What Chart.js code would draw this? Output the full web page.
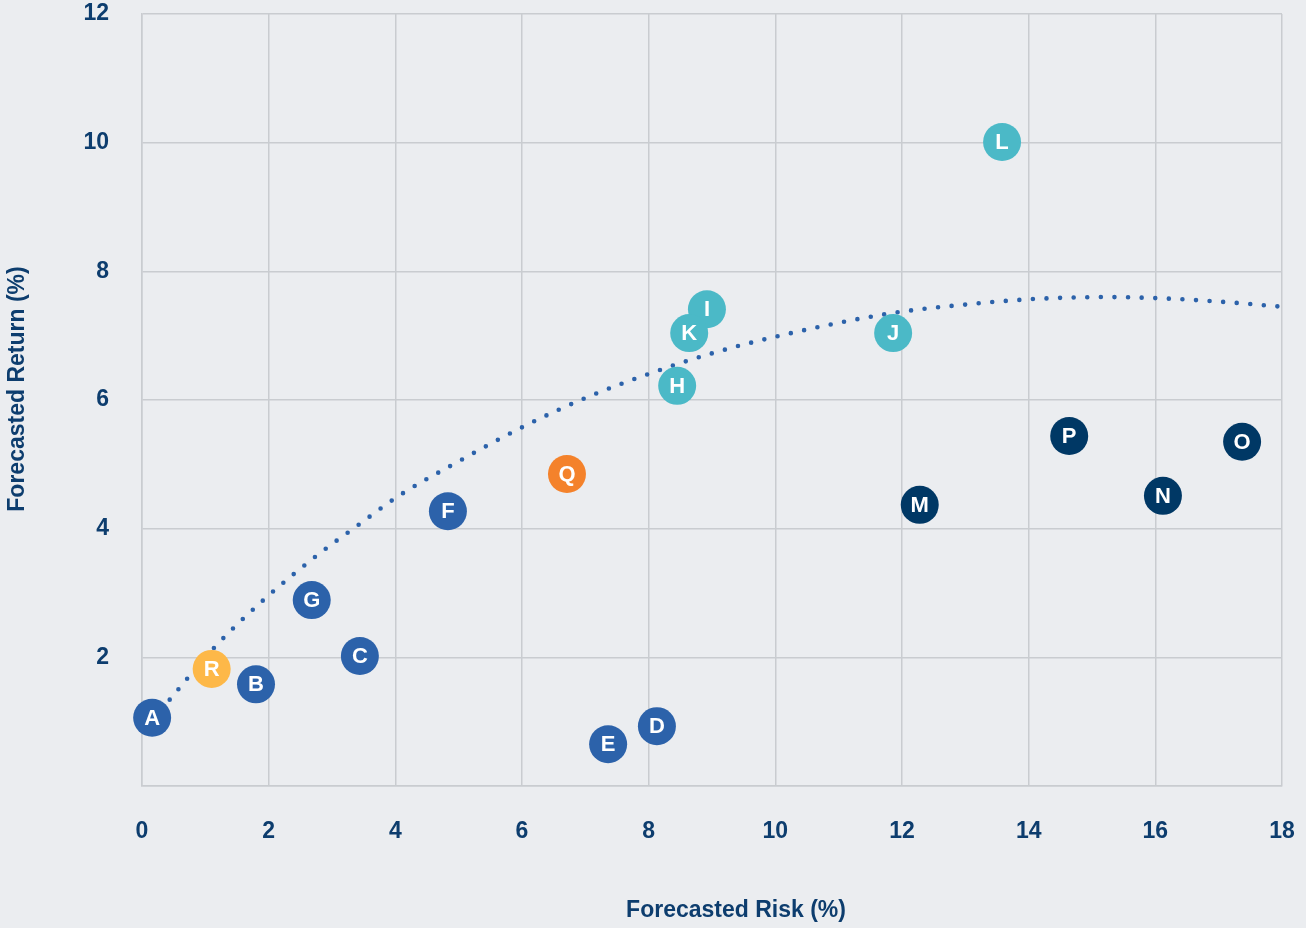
<!DOCTYPE html>
<html>
<head>
<meta charset="utf-8">
<script src="https://cdn.jsdelivr.net/npm/chart.js@4.4.1/dist/chart.umd.min.js"></script>
<style>
  html, body { margin: 0; padding: 0; background: #ebedf0; overflow: hidden; }
  #wrap { width: 1306px; height: 928px; position: relative; overflow: hidden; }
  #c { position: absolute; left: 0; top: -5px; }
</style>
</head>
<body>
<div id="wrap"><canvas id="c" width="1306" height="933"></canvas></div>
<script>
// Asset classes: label, forecasted risk (%), forecasted return (%), group
const labels = ['A', 'B', 'C', 'D', 'E', 'F', 'G', 'H', 'I', 'K', 'J', 'L', 'M', 'N', 'O', 'P', 'Q', 'R'];
const risk   = [0.16, 1.80, 3.44, 8.13, 7.36, 4.83, 2.68, 8.45, 8.92, 8.64, 11.86, 13.58, 12.28, 16.12, 17.37, 14.64, 6.71, 1.10];
const ret    = [1.06, 1.58, 2.02, 0.93, 0.65, 4.27, 2.89, 6.22, 7.41, 7.04, 7.04, 10.01, 4.37, 4.51, 5.35, 5.44, 4.85, 1.82];
const groups = ['core', 'core', 'core', 'core', 'core', 'core', 'core',
                'growth', 'growth', 'growth', 'growth', 'growth',
                'alt', 'alt', 'alt', 'alt', 'q', 'r'];

// Efficient-frontier curve read along its length
const frontierRisk   = [0.30, 0.41, 1.13, 1.94, 2.81, 3.35, 4.07, 4.86, 6.05, 7.07, 8.13, 8.98, 10.07, 11.84, 13.18, 14.08, 15.20, 16.10, 17.00, 18.00];
const frontierReturn = [1.18, 1.31, 2.14, 2.91, 3.62, 4.01, 4.52, 4.97, 5.60, 6.06, 6.45, 6.72, 7.00, 7.35, 7.50, 7.57, 7.60, 7.58, 7.53, 7.45];

// Axis ticks and titles
const xTicks = [0, 2, 4, 6, 8, 10, 12, 14, 16, 18];
const yTicks = [0, 2, 4, 6, 8, 10, 12];
const xTitle = 'Forecasted Risk (%)';
const yTitle = 'Forecasted Return (%)';

const groupColors = { core: '#2c62aa', growth: '#4bb9c7', alt: '#003865', q: '#f4822b', r: '#fdb848' };
const navy = '#0d3d6e';
const gridColor = '#c9ccd0';
const fontFamily = '"Liberation Sans", Arial, sans-serif';

const points = risk.map((x, i) => ({ x, y: ret[i] }));
const frontier = frontierRisk.map((x, i) => ({ x, y: frontierReturn[i] }));

// Writes each asset's letter inside its marker
const letterPlugin = {
  id: 'letters',
  afterDatasetsDraw(chart) {
    const meta = chart.getDatasetMeta(1);
    const ctx = chart.ctx;
    ctx.save();
    ctx.fillStyle = '#ffffff';
    ctx.font = 'bold 22px ' + fontFamily;
    ctx.textAlign = 'center';
    ctx.textBaseline = 'middle';
    meta.data.forEach((el, i) => {
      ctx.fillText(labels[i], el.x, el.y + 1);
    });
    ctx.restore();
  }
};

// Axis titles, placed relative to the plot area
const titlePlugin = {
  id: 'axisTitles',
  afterDraw(chart) {
    const { ctx, chartArea } = chart;
    ctx.save();
    ctx.fillStyle = navy;
    ctx.font = 'bold 23px ' + fontFamily;
    ctx.textAlign = 'center';
    ctx.textBaseline = 'middle';
    ctx.fillText(xTitle, (chartArea.left + chartArea.right) / 2 + 24, chartArea.bottom + 125);
    ctx.translate(18, (chartArea.top + chartArea.bottom) / 2 - 11);
    ctx.rotate(-Math.PI / 2);
    ctx.fillText(yTitle, 0, 0);
    ctx.restore();
  }
};

const tickFont = { family: fontFamily, size: 23, weight: 'bold' };

new Chart(document.getElementById('c'), {
  type: 'scatter',
  data: {
    datasets: [
      {
        type: 'line',
        data: frontier,
        borderColor: '#2c62aa',
        borderWidth: 4.6,
        borderDash: [0, 13.6],
        borderCapStyle: 'round',
        pointRadius: 0,
        fill: false,
        cubicInterpolationMode: 'monotone',
        order: 2
      },
      {
        data: points,
        backgroundColor: groups.map(g => groupColors[g]),
        borderWidth: 0,
        pointRadius: 19,
        clip: false,
        order: 1
      }
    ]
  },
  options: {
    responsive: false,
    animation: false,
    events: [],
    layout: { padding: { top: 8, right: 24, left: 0, bottom: 0 } },
    plugins: { legend: { display: false }, tooltip: { enabled: false } },
    scales: {
      x: {
        type: 'linear',
        min: 0, max: 18,
        afterBuildTicks: s => { s.ticks = xTicks.map(v => ({ value: v })); },
        afterFit: s => { s.height = 142; s.paddingLeft = 0; s.paddingRight = 0; },
        grid: { color: gridColor, lineWidth: 1.5, drawTicks: false },
        border: { color: gridColor, width: 1.5 },
        ticks: { color: navy, font: tickFont, padding: 32, maxRotation: 0 }
      },
      y: {
        type: 'linear',
        min: 0, max: 12,
        afterBuildTicks: s => { s.ticks = yTicks.map(v => ({ value: v })); },
        afterFit: s => { s.width = 142; s.paddingTop = 0; s.paddingBottom = 0; },
        grid: { color: gridColor, lineWidth: 1.5, drawTicks: false },
        border: { color: gridColor, width: 1.5 },
        ticks: { color: navy, font: tickFont, padding: 33, callback: v => (v === 0 ? '' : v) }
      }
    }
  },
  plugins: [letterPlugin, titlePlugin]
});
</script>
</body>
</html>
